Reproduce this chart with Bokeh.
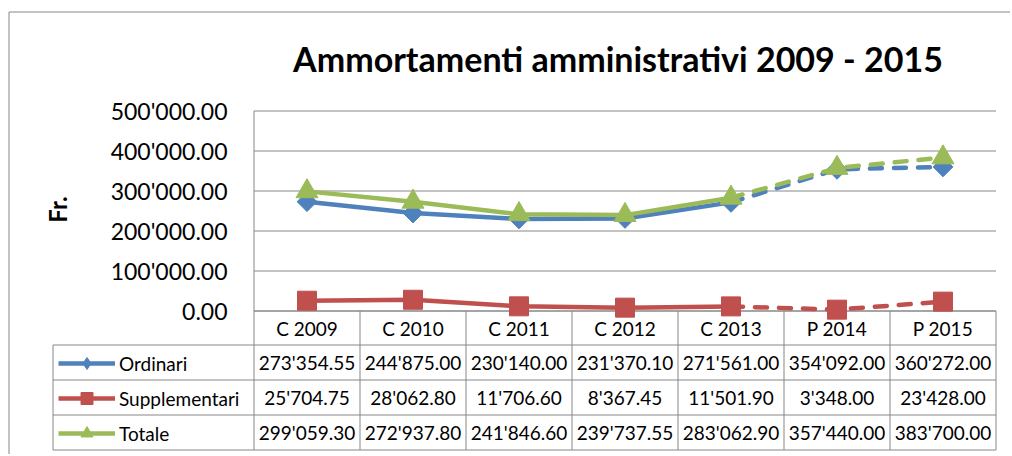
import math
from bokeh.plotting import figure
from bokeh.models import Range1d, Legend, LegendItem
from bokeh.core.properties import value
from bokeh.embed import file_html
from bokeh.resources import INLINE

# ---------------- data ----------------
categories = ["C 2009", "C 2010", "C 2011", "C 2012", "C 2013", "P 2014", "P 2015"]
ordinari = [273354.55, 244875.00, 230140.00, 231370.10, 271561.00, 354092.00, 360272.00]
supplementari = [25704.75, 28062.80, 11706.60, 8367.45, 11501.90, 3348.00, 23428.00]
totale = [299059.30, 272937.80, 241846.60, 239737.55, 283062.90, 357440.00, 383700.00]
series_names = ["Ordinari", "Supplementari", "Totale"]
y_ticks = [0, 100000, 200000, 300000, 400000, 500000]
title_text = "Ammortamenti amministrativi 2009 - 2015"
y_label = "Fr."
n_actual = 5  # "C" = consuntivo (solid line), "P" = preventivo (dashed line)


def fmt(v):
    return f"{v:,.2f}".replace(",", "'")


# ---------------- layout (page pixels) ----------------
W, H = 1010, 454
X0_PX = 253.5          # left edge of the first category column
CAT_PX = 106.0         # width of one category column
ZERO_PX = 310.5        # pixel row of value 0
TOP_PX = 110.5         # pixel row of the top tick
PXU_Y = (ZERO_PX - TOP_PX) / y_ticks[-1]
ROWS_PX = [310.5, 344.5, 379.5, 414.5, 449.5]   # table row boundaries
LEGCOL_PX = 52.5
FONT = "Lato"
GRID = "#878787"
TXT = "#000000"
colors = ["#4F81BD", "#C0504D", "#9BBB59"]
markers = ["square", "square", "triangle"]
legend_markers = ["diamond", "square", "triangle"]
msizes = [14, 19, 22]
mangles = [math.pi / 4, 0, 0]
N = len(categories)


def X(px):
    return -0.5 + (px - X0_PX) / CAT_PX


def Y(py):
    return (ZERO_PX - py) / PXU_Y


xs = list(range(N))

p = figure(width=W, height=H,
           x_range=Range1d(X(0), X(W)), y_range=Range1d(Y(H), Y(0)),
           output_backend="svg", toolbar_location=None,
           x_axis_location=None, y_axis_location=None,
           min_border=0, min_border_left=0, min_border_right=0,
           min_border_top=0, min_border_bottom=0,
           outline_line_color=None, background_fill_color="white",
           border_fill_color="white")
p.xgrid.visible = False
p.ygrid.visible = False

# outer chart border (left and top edges)
p.segment(x0=[X(8.5), X(8.5)], y0=[Y(11.5), Y(11.5)], x1=[X(8.5), X(W + 5)],
          y1=[Y(H + 5), Y(11.5)], line_color=GRID, line_width=1)

# title
p.text(x=[X(617.5)], y=[Y(58)], text=[title_text], text_align="center",
       text_baseline="middle", text_font=value(FONT), text_font_style="bold",
       text_font_size="34px", text_color=TXT)

# y axis label
p.text(x=[X(57)], y=[Y(209)], text=[y_label], angle=math.pi / 2,
       text_align="center", text_baseline="middle", text_font=value(FONT),
       text_font_style="bold", text_font_size="24px", text_color=TXT)

# value grid, axis line and tick labels
p.segment(x0=[-0.5] * len(y_ticks), x1=[N - 0.5] * len(y_ticks), y0=y_ticks,
          y1=y_ticks, line_color=GRID, line_width=1)
p.segment(x0=[-0.5], x1=[-0.5], y0=[y_ticks[-1]], y1=[Y(ROWS_PX[-1])],
          line_color=GRID, line_width=1)
p.text(x=[X(227)] * len(y_ticks), y=y_ticks, text=[fmt(t) for t in y_ticks],
       text_align="right", text_baseline="middle", text_font=value(FONT),
       text_font_size="23px", text_color=TXT)

# ---------------- data table ----------------
row_y = [Y(r) for r in ROWS_PX]
p.segment(x0=[-0.5] + [X(LEGCOL_PX)] * 4, x1=[N - 0.5] * 5, y0=row_y, y1=row_y,
          line_color=GRID, line_width=1)
bx = [b + 0.5 for b in xs]
p.segment(x0=bx, x1=bx, y0=[0] * N, y1=[row_y[-1]] * N, line_color=GRID, line_width=1)
p.segment(x0=[X(LEGCOL_PX)], x1=[X(LEGCOL_PX)], y0=[row_y[1]], y1=[row_y[-1]],
          line_color=GRID, line_width=1)

p.text(x=xs, y=[(row_y[0] + row_y[1]) / 2] * N, text=categories,
       text_align="center", text_baseline="middle", text_font=value(FONT),
       text_font_size="19px", text_color=TXT)
for k, vals in enumerate([ordinari, supplementari, totale]):
    cy = (row_y[k + 1] + row_y[k + 2]) / 2
    p.text(x=xs, y=[cy] * N, text=[fmt(v) for v in vals], text_align="center",
           text_baseline="middle", text_font=value(FONT), text_font_size="19px",
           text_color=TXT)

# ---------------- series ----------------
items = []
for name, vals, c, mk, lmk, ms, ang in zip(series_names,
                                           [ordinari, supplementari, totale],
                                           colors, markers, legend_markers,
                                           msizes, mangles):
    solid = p.line(xs[:n_actual], vals[:n_actual], line_color=c, line_width=4.5,
                   line_join="round")
    p.line(xs[n_actual - 1:], vals[n_actual - 1:], line_color=c, line_width=4.5,
           line_dash="12 12", line_cap="round")
    if lmk != mk:
        # key marker for the legend, fully covered by the rotated-square marker
        key = p.scatter(xs, vals, marker=lmk, size=ms * 1.3, fill_color=c,
                        line_color=c)
    sc = p.scatter(xs, vals, marker=mk, size=ms, angle=ang, fill_color=c,
                   line_color=c)
    if lmk == mk:
        key = sc
    items.append(LegendItem(label=name, renderers=[solid, key]))

legend = Legend(items=items, location=(58, H - 448), orientation="vertical",
                padding=0, margin=0, spacing=5,
                glyph_width=57, glyph_height=30, label_height=30,
                label_width=120, label_standoff=4,
                label_text_font=FONT, label_text_font_size="19px",
                label_text_color=TXT, border_line_color=None,
                background_fill_alpha=0)
p.add_layout(legend)

open("out.html", "w").write(file_html(p, INLINE))
